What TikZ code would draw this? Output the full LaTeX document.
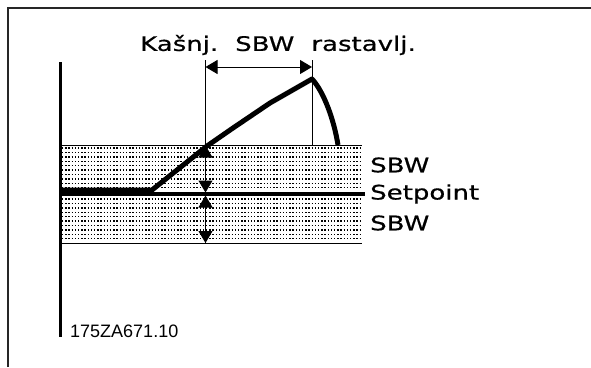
\documentclass[tikz,border=0pt]{standalone}
\usepackage{fontspec}
\setmainfont{DejaVu Sans}[FakeStretch=1.3,FakeBold=0.6]
\newfontfamily\codefont{Liberation Sans}
\usetikzlibrary{arrows.meta}
\begin{document}
\begin{tikzpicture}[x=1pt,y=-1pt,
  frame/.style={draw=black!85,line width=1.6pt},
  axis/.style={line width=3pt},
  thin/.style={line width=1pt},
  dotrow/.style={line width=1.4pt,dash pattern=on 1.4pt off 1.8pt},
  curve/.style={line width=5pt,line join=round},
  setline/.style={line width=4pt},
  dim/.style={line width=1pt,{Triangle[width=14pt,length=12pt]}-{Triangle[width=14pt,length=12pt]}},
  lbl/.style={font=\fontsize{20}{22}\selectfont,inner sep=0pt,anchor=west},
  code/.style={font=\codefont\fontsize{18}{20}\selectfont,inner sep=0pt,anchor=west}]
\useasboundingbox (0,0) rectangle (591,367);
% frame
\draw[frame] (8,367) -- (8,8) -- (591,8);
% dotted bands
\foreach \k in {0,...,9} {
  \draw[dotrow] (62,148+4.4*\k) -- (362,148+4.4*\k);
  \draw[dotrow] (62,199+4.4*\k) -- (362,199+4.4*\k);
}
% band borders
\coordinate (bandTL) at (61,145);
\coordinate (bandTR) at (362,145);
\coordinate (bandBL) at (61,243);
\coordinate (bandBR) at (362,243);
\draw[thin] (bandTL) -- (bandTR);
\draw[thin] (bandBL) -- (bandBR);
% setpoint line
\coordinate (spL) at (61,194);
\coordinate (spR) at (365,194);
\draw[setline] (spL) -- (spR);
% axis
\coordinate (axT) at (60,62);
\coordinate (axB) at (60,337);
\draw[axis] (axT) -- (axB);
% vertical reference lines
\coordinate (v1T) at (205.5,60);
\coordinate (v1B) at (205.5,243);
\coordinate (v2T) at (312,60);
\coordinate (v2B) at (312,145);
\draw[thin] (v1T) -- (v1B);
\draw[thin] (v2T) -- (v2B);
% dimension arrows
\coordinate (hA) at (205.5,67);
\coordinate (hB) at (312,67);
\draw[dim] (hA) -- (hB);
\coordinate (u1) at (205.5,145.5);
\coordinate (u2) at (205.5,192.5);
\coordinate (l1) at (205.5,195.5);
\coordinate (l2) at (205.5,243);
\draw[dim] (u1) -- (u2);
\draw[dim] (l1) -- (l2);
% process curve
\coordinate (c0) at (60,190);
\coordinate (c1) at (152,190);
\coordinate (c2) at (207,146);
\coordinate (c3) at (233,128);
\coordinate (c4) at (270,103);
\coordinate (peak) at (312,79);
\coordinate (cend) at (338,145);
\draw[curve] (c0) -- (c1) -- (c2) -- (c3) -- (c4) -- (peak)
  .. controls (324,92) and (334,120) .. (cend);
% labels
\node[lbl] (title) at (140,45) {Kašnj.\hspace{17pt}SBW\hspace{17pt}rastavlj.};
\node[lbl] (sbw1) at (370,165) {SBW};
\node[lbl] (sp) at (370,194) {Setpoint};
\node[lbl] (sbw2) at (370,223) {SBW};
\node[code] (code) at (70,331) {175ZA671.10};
\end{tikzpicture}
\end{document}
